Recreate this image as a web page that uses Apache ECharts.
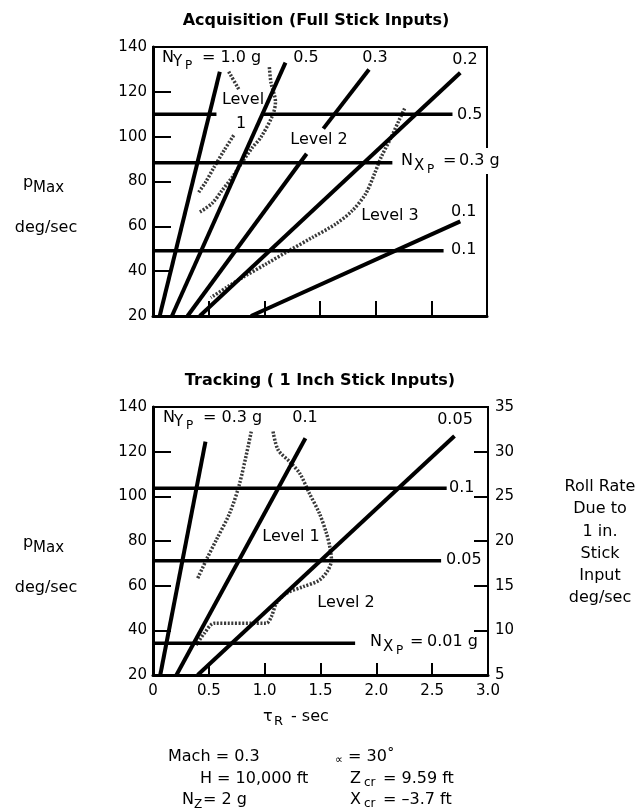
<!DOCTYPE html>
<html>
<head>
<meta charset="utf-8">
<script src="https://cdn.jsdelivr.net/npm/echarts@6/dist/echarts.min.js"></script>
<style>
html,body{margin:0;padding:0;background:#fff;}
#chart{width:641px;height:812px;}
</style>
</head>
<body>
<div id="chart"></div>
<script>
// ---------- Data ----------
// Acquisition (Full Stick Inputs): tauR (sec) vs pMax (deg/sec)
const acqNy10 = [[0.06, 20], [0.60, 129]];          // N_Yp = 1.0 g
const acqNy05 = [[0.17, 20], [1.19, 133]];          // N_Yp = 0.5 g
const acqNy03a = [[0.31, 20], [1.38, 92.4]];        // N_Yp = 0.3 g (below label)
const acqNy03b = [[1.53, 103.6], [1.94, 130]];      // N_Yp = 0.3 g (above label)
const acqNy02 = [[0.42, 20], [2.76, 128.5]];        // N_Yp = 0.2 g
const acqNy01 = [[0.88, 20], [2.76, 62.2]];         // N_Yp = 0.1 g
const acqNx05a = [[0, 110], [0.57, 110]];           // N_Xp = 0.5 g
const acqNx05b = [[0.98, 110], [2.69, 110]];
const acqNx03 = [[0, 88.4], [2.15, 88.4]];          // N_Xp = 0.3 g
const acqNx01 = [[0, 49.1], [2.61, 49.1]];          // N_Xp = 0.1 g
const acqLevel1Top = [[0.68, 129], [0.776, 120.7]];
const acqLevel1Low = [[0.725, 100.6], [0.64, 94], [0.55, 86.5], [0.47, 79.5], [0.40, 74.5]];
const acqLevel1Right = [[1.045, 131], [1.06, 124], [1.10, 115.5], [1.075, 109.6], [0.97, 99.8],
  [0.89, 95], [0.80, 88.5], [0.71, 81.8], [0.62, 76], [0.53, 70.2], [0.41, 66]];
const acqLevel23 = [[2.26, 112.6], [2.21, 107.3], [2.14, 99.8], [2.05, 90.9], [1.99, 83.5],
  [1.91, 74.5], [1.79, 67], [1.64, 61], [1.43, 55], [1.22, 49.1], [1.015, 43.2],
  [0.805, 37.2], [0.66, 32.7], [0.52, 28.2]];

// Tracking (1 Inch Stick Inputs)
const trkNy03 = [[0.065, 20], [0.47, 124.5]];       // N_Yp = 0.3 g
const trkNy01 = [[0.21, 20], [1.365, 126]];         // N_Yp = 0.1 g
const trkNy005 = [[0.40, 20], [2.70, 127]];         // N_Yp = 0.05 g
const trkNx01 = [[0, 103.6], [2.63, 103.6]];        // N_Xp = 0.1 g
const trkNx005 = [[0, 71.2], [2.58, 71.2]];         // N_Xp = 0.05 g
const trkNx001 = [[0, 34.2], [1.81, 34.2]];         // N_Xp = 0.01 g
const trkLevelLeft = [[0.88, 129], [0.776, 105.8], [0.686, 92.4], [0.567, 80.5], [0.477, 71.5], [0.40, 63.3]];
const trkLevelRight = [[1.075, 129], [1.12, 120.8], [1.224, 115.5], [1.314, 110.3], [1.40, 101.4],
  [1.49, 92.4], [1.553, 83.5], [1.583, 77.5], [1.598, 71.5], [1.568, 67], [1.49, 62.5],
  [1.343, 59.5], [1.195, 56.6], [1.105, 52.1], [1.06, 46.1], [1.015, 43.2], [0.55, 43.2],
  [0.46, 38.7], [0.387, 33.4]];

// Axes
const xTicks = [0, 0.5, 1.0, 1.5, 2.0, 2.5, 3.0];
const pMaxTicks = [20, 40, 60, 80, 100, 120, 140];
const rollTicks = [5, 10, 15, 20, 25, 30, 35];

// ---------- Chart ----------
const FONT = '"DejaVu Sans", sans-serif';
const chart = echarts.init(document.getElementById('chart'), null, {renderer: 'canvas'});

function solid(data, xi, yi, w) {
  return {type: 'line', data: data, xAxisIndex: xi, yAxisIndex: yi, symbol: 'none', silent: true,
    lineStyle: {color: '#000', width: w || 4, cap: 'butt'}, z: 3};
}
function dashed(data, xi, yi) {
  return {type: 'line', data: data, xAxisIndex: xi, yAxisIndex: yi, symbol: 'none', silent: true,
    smooth: 0.3, lineStyle: {color: '#3a3a3a', width: 3.5, type: [2, 1.6]}, z: 2};
}

function txt(x, y, s, size, opts) {
  opts = opts || {};
  return {type: 'text', x: x, y: y, z: 100, silent: true,
    style: Object.assign({text: s, font: (opts.bold ? 'bold ' : '') + size + 'px ' + FONT, fill: '#000',
      align: opts.align || 'left', verticalAlign: 'middle'}, opts.style || {})};
}

const xAxisCommon = {type: 'value', min: 0, max: 3, interval: 0.5,
  axisLine: {show: true, lineStyle: {color: '#000', width: 3}},
  splitLine: {show: false}};
const yAxisCommon = {type: 'value', min: 20, max: 140, interval: 20,
  axisLine: {show: true, lineStyle: {color: '#000', width: 3}},
  axisTick: {show: true, inside: true, length: 18, lineStyle: {color: '#000', width: 2}},
  axisLabel: {color: '#000', fontSize: 15, fontFamily: FONT, margin: 6},
  splitLine: {show: false}};

const option = {
  animation: false,
  backgroundColor: '#fff',
  grid: [
    {left: 153, top: 47, width: 334, height: 269, show: true, borderColor: '#000', borderWidth: 2, backgroundColor: 'transparent'},
    {left: 153, top: 407, width: 335, height: 268, show: true, borderColor: '#000', borderWidth: 2, backgroundColor: 'transparent'}
  ],
  xAxis: [
    Object.assign({}, xAxisCommon, {gridIndex: 0,
      axisTick: {show: true, inside: true, length: 15, lineStyle: {color: '#000', width: 2}},
      axisLabel: {show: false}}),
    Object.assign({}, xAxisCommon, {gridIndex: 1,
      axisTick: {show: true, inside: true, length: 12, lineStyle: {color: '#000', width: 2}},
      axisLabel: {show: true, color: '#000', fontSize: 15, fontFamily: FONT, margin: 9,
        formatter: v => (v === 0 ? '0' : v.toFixed(1))}})
  ],
  yAxis: [
    Object.assign({}, yAxisCommon, {gridIndex: 0}),
    Object.assign({}, yAxisCommon, {gridIndex: 1}),
    {type: 'value', gridIndex: 1, position: 'right', min: 5, max: 35, interval: 5,
      axisLine: {show: true, lineStyle: {color: '#000', width: 2}},
      axisTick: {show: true, inside: true, length: 14, lineStyle: {color: '#000', width: 2}},
      axisLabel: {color: '#000', fontSize: 15, fontFamily: FONT, margin: 7},
      splitLine: {show: false}}
  ],
  series: [
    solid(acqNy10, 0, 0), solid(acqNy05, 0, 0), solid(acqNy03a, 0, 0), solid(acqNy03b, 0, 0),
    solid(acqNy02, 0, 0), solid(acqNy01, 0, 0),
    solid(acqNx05a, 0, 0, 3.5), solid(acqNx05b, 0, 0, 3.5), solid(acqNx03, 0, 0, 3.5), solid(acqNx01, 0, 0, 3.5),
    dashed(acqLevel1Top, 0, 0), dashed(acqLevel1Low, 0, 0), dashed(acqLevel1Right, 0, 0), dashed(acqLevel23, 0, 0),
    solid(trkNy03, 1, 1), solid(trkNy01, 1, 1), solid(trkNy005, 1, 1),
    solid(trkNx01, 1, 1, 3.5), solid(trkNx005, 1, 1, 3.5), solid(trkNx001, 1, 1, 3.5),
    dashed(trkLevelLeft, 1, 1), dashed(trkLevelRight, 1, 1)
  ],
  graphic: [
    // titles
    txt(316, 21, 'Acquisition (Full Stick Inputs)', 16, {bold: true, align: 'center'}),
    txt(320, 381, 'Tracking ( 1 Inch Stick Inputs)', 16, {bold: true, align: 'center'}),
    // left axis names
    txt(23, 183, 'p', 16), txt(33, 188, 'Max', 15),
    txt(46, 228, 'deg/sec', 16, {align: 'center'}),
    txt(23, 543, 'p', 16), txt(33, 548, 'Max', 15),
    txt(46, 588, 'deg/sec', 16, {align: 'center'}),
    // right axis name
    {type: 'text', x: 600, y: 476, z: 100, silent: true,
      style: {text: 'Roll Rate\nDue to\n1 in.\nStick\nInput\ndeg/sec', font: '16px ' + FONT, fill: '#000',
        align: 'center', verticalAlign: 'top', lineHeight: 22.2}},
    // top chart labels
    txt(162, 58, 'N', 16), txt(173, 62, 'Y', 15), txt(185, 66, 'P', 12), txt(202, 58, '= 1.0 g', 16),
    txt(306, 58, '0.5', 16, {align: 'center'}),
    txt(375, 58, '0.3', 16, {align: 'center'}),
    txt(465, 60, '0.2', 16, {align: 'center'}),
    txt(243, 100, 'Level', 16, {align: 'center'}),
    txt(241, 124, '1', 16, {align: 'center'}),
    txt(319, 140, 'Level 2', 16, {align: 'center'}),
    txt(390, 216, 'Level 3', 16, {align: 'center'}),
    txt(457, 115, '0.5', 16),
    txt(401, 161, 'N', 16), txt(414, 166, 'X', 15), txt(427, 170, 'P', 12), txt(443, 161, '=', 16),
    txt(459, 161, '0.3 g', 16, {style: {backgroundColor: '#fff', padding: [5, 0, 5, 0]}}),
    txt(451, 212, '0.1', 16),
    txt(451, 250, '0.1', 16),
    // bottom chart labels
    txt(163, 418, 'N', 16), txt(174, 422, 'Y', 15), txt(186, 426, 'P', 12), txt(203, 418, '= 0.3 g', 16),
    txt(305, 418, '0.1', 16, {align: 'center'}),
    txt(455, 420, '0.05', 16, {align: 'center'}),
    txt(449, 488, '0.1', 16),
    txt(446, 560, '0.05', 16),
    txt(291, 537, 'Level 1', 16, {align: 'center'}),
    txt(346, 603, 'Level 2', 16, {align: 'center'}),
    txt(370, 642, 'N', 16), txt(383, 647, 'X', 15), txt(396, 651, 'P', 12), txt(410, 642, '=', 16),
    txt(427, 642, '0.01 g', 16),
    // x axis name
    txt(263, 717, '\u03C4', 16), txt(274, 722, 'R', 13), txt(291, 717, '- sec', 16),
    // flight condition annotations
    txt(168, 757, 'Mach = 0.3', 16),
    txt(200, 779, 'H = 10,000 ft', 16),
    txt(182, 800, 'N', 16), txt(194, 805, 'Z', 12), txt(203, 800, '= 2 g', 16),
    txt(335, 760, '\u221D', 11), txt(348, 757, '= 30\u02DA', 16),
    txt(350, 779, 'Z', 16), txt(364, 783, 'cr', 12), txt(383, 779, '= 9.59 ft', 16),
    txt(350, 800, 'X', 16), txt(364, 804, 'cr', 12), txt(383, 800, '= \u20133.7 ft', 16)
  ]
};
chart.setOption(option);
</script>
</body>
</html>
